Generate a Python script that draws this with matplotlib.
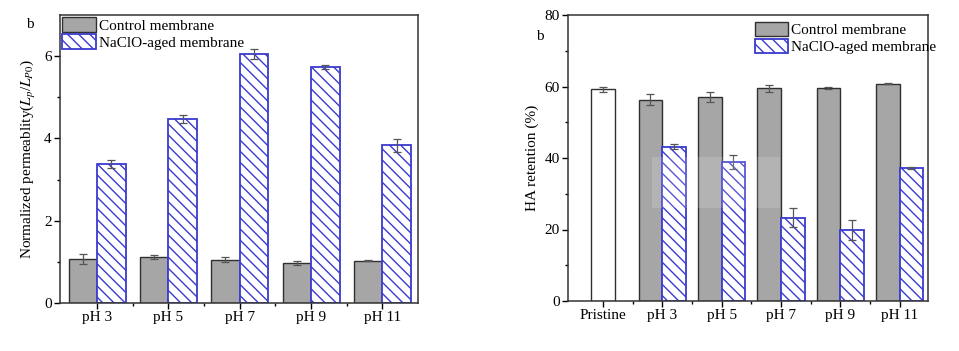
import matplotlib
matplotlib.use("Agg")
import matplotlib.pyplot as plt
import numpy as np

plt.rcParams['font.family'] = ['Liberation Serif', 'DejaVu Serif']
plt.rcParams['mathtext.fontset'] = 'stix'
plt.rcParams['hatch.color'] = '#8a8ccc'
plt.rcParams['hatch.linewidth'] = 1.0

# left panel: normalized permeability
perm_labels = ['pH 3', 'pH 5', 'pH 7', 'pH 9', 'pH 11']
perm_control = [1.08, 1.12, 1.05, 0.98, 1.03]
perm_control_err = [0.12, 0.05, 0.06, 0.05, 0.02]
perm_aged = [3.38, 4.47, 6.05, 5.73, 3.83]
perm_aged_err = [0.10, 0.10, 0.12, 0.05, 0.15]

# right panel: HA retention
ret_labels = ['Pristine', 'pH 3', 'pH 5', 'pH 7', 'pH 9', 'pH 11']
ret_pristine = 59.2
ret_pristine_err = 0.7
ret_control = [56.3, 57.2, 59.5, 59.6, 60.8]
ret_control_err = [1.5, 1.4, 1.0, 0.3, 0.2]
ret_aged = [43.2, 38.8, 23.3, 19.8, 37.2]
ret_aged_err = [0.7, 2.0, 2.7, 2.8, 0.4]

gray = '#a6a6a6'
blue = '#3a3ad0'
w = 0.4
ekw = dict(ecolor='#555555', elinewidth=0.9, capsize=3, capthick=0.9)

fig = plt.figure(figsize=(9.59, 3.51), dpi=100)


def style(ax):
    ax.tick_params(direction='out', length=4, width=1, labelsize=11, pad=2)
    ax.tick_params(which='minor', direction='out', length=2.5, width=1)
    for s in ax.spines.values():
        s.set_linewidth(1.1)
        s.set_color('#333333')


# ---- left
ax1 = fig.add_axes([60/959, 48/351, 358/959, 288/351])
x = np.arange(1, len(perm_labels) + 1)
ax1.bar(x - w/2, perm_control, w, color=gray, edgecolor='#303030', lw=1,
        yerr=perm_control_err, error_kw=ekw, label='Control membrane')
ax1.bar(x + w/2, perm_aged, w, color='white', edgecolor=blue, lw=1.3,
        hatch='\\\\\\', yerr=perm_aged_err, error_kw=ekw,
        label='NaClO-aged membrane')
ax1.set_xlim(0.48, 5.5)
ax1.set_ylim(0, 7)
ax1.set_yticks([0, 2, 4, 6])
ax1.set_yticks([1, 3, 5], minor=True)
ax1.set_xticks(x)
ax1.set_xticklabels(perm_labels)
ax1.set_xticks(x[:-1] + 0.5, minor=True)
ax1.set_ylabel('Normalized permeablity($L_p$/$L_{P0}$)', fontsize=11, labelpad=4)
style(ax1)
ax1.legend(loc='upper left', bbox_to_anchor=(0.0, 1.0), frameon=False,
           fontsize=11, handlelength=2.2, handleheight=1.1, handletextpad=0.2,
           labelspacing=0.1, borderaxespad=0.1, borderpad=0.05)
fig.text(30/959, 1 - 25/351, 'b', fontsize=11, ha='center', va='center')

# ---- right
ax2 = fig.add_axes([568/959, 50/351, 360/959, 286/351])
xr = np.arange(1, len(ret_labels) + 1)
ax2.bar(xr[0], ret_pristine, w, color='white', edgecolor='#303030', lw=1,
        yerr=ret_pristine_err, error_kw=ekw)
ax2.bar(xr[1:] - w/2, ret_control, w, color=gray, edgecolor='#303030', lw=1,
        yerr=ret_control_err, error_kw=ekw, label='Control membrane')
ax2.bar(xr[1:] + w/2, ret_aged, w, color='white', edgecolor=blue, lw=1.3,
        hatch='\\\\\\', yerr=ret_aged_err, error_kw=ekw,
        label='NaClO-aged membrane')
ax2.set_xlim(0.41, 6.48)
ax2.set_ylim(0, 80)
ax2.set_yticks([0, 20, 40, 60, 80])
ax2.set_yticks([10, 30, 50, 70], minor=True)
ax2.set_xticks(xr)
ax2.set_xticklabels(ret_labels)
ax2.set_xticks(xr[:-1] + 0.5, minor=True)
ax2.set_ylabel('HA retention (%)', fontsize=11, labelpad=4)
style(ax2)
ax2.legend(loc='upper right', bbox_to_anchor=(1.03, 0.985), frameon=False,
           fontsize=11, handlelength=2.2, handleheight=1.1, handletextpad=0.2,
           labelspacing=0.1, borderaxespad=0.1, borderpad=0.05)
fig.text(540/959, 1 - 37/351, 'b', fontsize=11, ha='center', va='center')

# faint light patch seen over the middle of the right panel
fig.patches.append(plt.Rectangle((652/959, 1 - 208/351), 128/959, 51/351,
                                 transform=fig.transFigure, color='white',
                                 alpha=0.15, lw=0, zorder=10))

fig.savefig('out.png', dpi=100)
